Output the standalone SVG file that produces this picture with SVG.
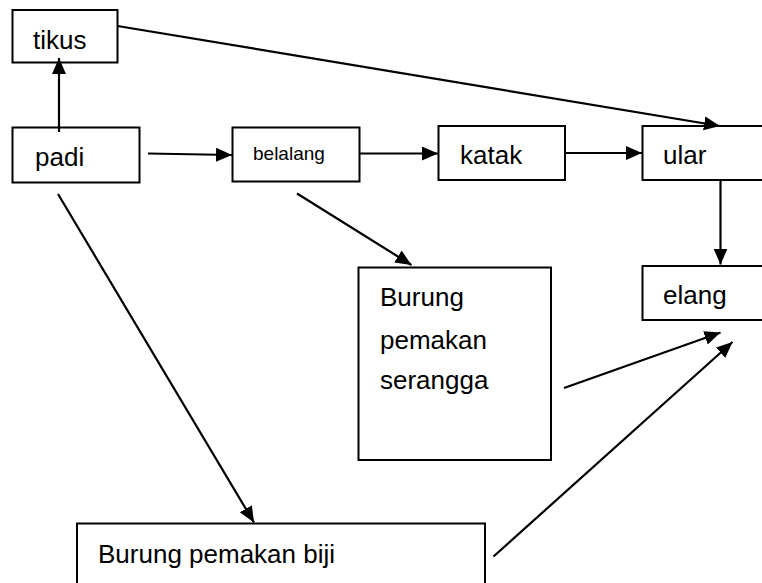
<svg xmlns="http://www.w3.org/2000/svg" width="762" height="583" viewBox="0 0 762 583">
  <defs>
    <style>
      .box { fill: #ffffff; stroke: #000000; stroke-width: 2; }
      .lbl { font-family: "Liberation Sans", Arial, sans-serif; font-size: 26px; fill: #000000; }
      .small { font-size: 19px; }
      .edge { stroke: #000000; stroke-width: 2.2; fill: none; marker-end: url(#arrow); }
    </style>
    <marker id="arrow" markerUnits="userSpaceOnUse" markerWidth="17" markerHeight="15" refX="16" refY="7" orient="auto">
      <path d="M0,0 L16,7 L0,14 Z" fill="#000000"/>
    </marker>
  </defs>
  <rect width="762" height="583" fill="#ffffff"/>

  <g id="node-tikus">
    <rect class="box" x="12.5" y="10" width="105" height="52.5"/>
    <text class="lbl" x="33" y="49">tikus</text>
  </g>
  <g id="node-padi">
    <rect class="box" x="12.5" y="127.5" width="127" height="55"/>
    <text class="lbl" x="35" y="166">padi</text>
  </g>
  <g id="node-belalang">
    <rect class="box" x="232.5" y="127.5" width="127" height="54"/>
    <text class="lbl small" x="253" y="160">belalang</text>
  </g>
  <g id="node-katak">
    <rect class="box" x="438.5" y="126" width="126.5" height="54"/>
    <text class="lbl" x="460" y="164">katak</text>
  </g>
  <g id="node-ular">
    <rect class="box" x="642.5" y="126" width="130" height="54"/>
    <text class="lbl" x="663" y="164">ular</text>
  </g>
  <g id="node-elang">
    <rect class="box" x="642.5" y="266" width="130" height="54"/>
    <text class="lbl" x="663" y="304">elang</text>
  </g>
  <g id="node-burung-serangga">
    <rect class="box" x="358.5" y="267.5" width="192.5" height="192.5"/>
    <text class="lbl" x="380" y="306">Burung</text>
    <text class="lbl" x="380" y="349">pemakan</text>
    <text class="lbl" x="380" y="389">serangga</text>
  </g>
  <g id="node-burung-biji">
    <rect class="box" x="77" y="523.5" width="408" height="70"/>
    <text class="lbl" x="98" y="563">Burung pemakan biji</text>
  </g>

  <g id="connectors">
    <line class="edge" x1="59" y1="132" x2="59" y2="58"/>
    <line class="edge" x1="117.5" y1="26" x2="720" y2="126"/>
    <line class="edge" x1="148" y1="153.5" x2="232" y2="155"/>
    <line class="edge" x1="359.5" y1="153.5" x2="438" y2="153.5"/>
    <line class="edge" x1="565" y1="153" x2="642" y2="153"/>
    <line class="edge" x1="720.5" y1="180" x2="720.5" y2="264.5"/>
    <line class="edge" x1="297" y1="193.5" x2="411.5" y2="265"/>
    <line class="edge" x1="58" y1="194" x2="254" y2="522.5"/>
    <line class="edge" x1="564" y1="388" x2="720.5" y2="332.5"/>
    <line class="edge" x1="493.5" y1="556.5" x2="732.5" y2="342"/>
  </g>
</svg>
